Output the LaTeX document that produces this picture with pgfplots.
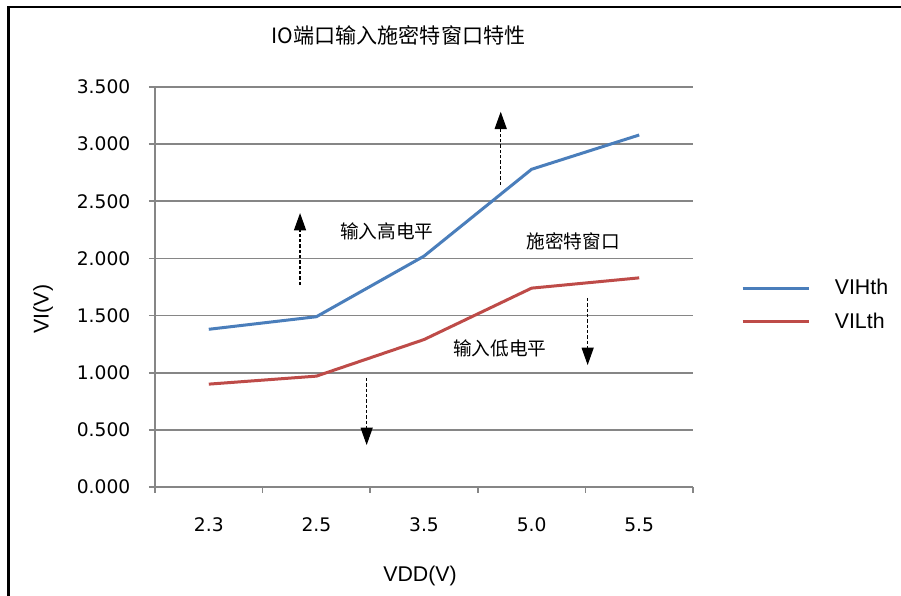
\documentclass[border=0pt]{standalone}
\usepackage{fontspec}
\setmainfont{Liberation Sans}
\newfontfamily\cjk{Noto Sans CJK SC}
\newfontfamily\tickfont{DejaVu Sans}
\usepackage{pgfplots}
\pgfplotsset{compat=1.18}
\usetikzlibrary{arrows.meta}
\definecolor{blueline}{RGB}{74,126,187}
\definecolor{redline}{RGB}{190,75,72}
\definecolor{axgray}{RGB}{134,134,134}

\begin{document}
\begin{tikzpicture}
\useasboundingbox (0,0) rectangle (675.75pt,447pt);
\clip (0,0) rectangle (675.75pt,447pt);
\fill[white] (0,0) rectangle (675.75pt,447pt);
\draw[line width=1.9pt] (6.5pt,-5pt) -- (6.5pt,441.75pt) -- (690pt,441.75pt);
\begin{axis}[
  at={(116.25pt,81.75pt)}, anchor=south west,
  scale only axis, width=403.5pt, height=300pt,
  xmin=0.5, xmax=5.5, ymin=0, ymax=3.5,
  axis lines*=left,
  axis line style={axgray, line width=1.2pt},
  tick align=outside,
  major tick length=4.5pt,
  xtick={1,2,3,4,5},
  xticklabels={2.3,2.5,3.5,5.0,5.5},
  xtick style={draw=none},
  xticklabel style={yshift=-15pt},
  extra x ticks={0.5,1.5,2.5,3.5,4.5,5.5},
  extra x tick labels={},
  extra x tick style={xtick style={draw=axgray, line width=1.2pt}},
  ytick={0,0.5,1,1.5,2,2.5,3,3.5},
  ytick style={axgray, line width=1.2pt},
  yticklabel style={xshift=-10.5pt, /pgf/number format/.cd, fixed, fixed zerofill, precision=3},
  ymajorgrids,
  major grid style={axgray, line width=1.2pt},
  tick label style={font=\tickfont\fontsize{14pt}{16pt}\selectfont},
  /pgf/number format/assume math mode=true,
  xlabel={VDD(V)},
  ylabel={VI(V)},
  label style={font=\fontsize{16pt}{18pt}\selectfont},
  xlabel style={at={(axis description cs:0.4926,-0.2225)}, anchor=center},
  ylabel style={at={(axis description cs:-0.208,0.445)}, anchor=center},
  title={IO端口输入施密特窗口特性},
  title style={at={(axis description cs:0.4526,1.11)}, anchor=center, font=\cjk\fontsize{15.8pt}{18pt}\selectfont},
  legend style={draw=none, fill=none, at={(axis description cs:1.089,0.455)}, anchor=west,
    inner sep=0pt, row sep=12pt, column sep=18pt,
    nodes={inner sep=0pt, anchor=west}, font=\fontsize{16pt}{18pt}\selectfont},
  legend cell align=left,
  legend image code/.code={\draw[#1] (0pt,0pt) -- (50pt,0pt);},
]
\addplot[blueline, line width=2.25pt, mark=none] coordinates {(1,1.38) (2,1.49) (3,2.02) (4,2.78) (5,3.08)};
\addlegendentry{VIHth}
\addplot[redline, line width=2.25pt, mark=none] coordinates {(1,0.90) (2,0.97) (3,1.29) (4,1.74) (5,1.83)};
\addlegendentry{VILth}

\node[font=\cjk\fontsize{14pt}{16pt}\selectfont] at (axis cs:2.656,2.24) {输入高电平};
\node[font=\cjk\fontsize{14pt}{16pt}\selectfont] at (axis cs:4.385,2.152) {施密特窗口};
\node[font=\cjk\fontsize{14pt}{16pt}\selectfont] at (axis cs:3.706,1.216) {输入低电平};

\draw[line width=1.1pt, dash pattern=on 2.5pt off 1.5pt, -{Triangle[length=13pt,width=9pt]}] (axis cs:1.848,1.767) -- (axis cs:1.848,2.397);
\draw[line width=1.1pt, dash pattern=on 2.5pt off 1.5pt, -{Triangle[length=13pt,width=9pt]}] (axis cs:3.713,2.642) -- (axis cs:3.713,3.284);
\draw[line width=0.8pt, dash pattern=on 2.5pt off 1.5pt, -{Triangle[length=13pt,width=9pt]}] (axis cs:2.467,0.954) -- (axis cs:2.467,0.367);
\draw[line width=0.8pt, dash pattern=on 2.5pt off 1.5pt, -{Triangle[length=13pt,width=9pt]}] (axis cs:4.521,1.654) -- (axis cs:4.521,1.067);
\end{axis}
\end{tikzpicture}
\end{document}
